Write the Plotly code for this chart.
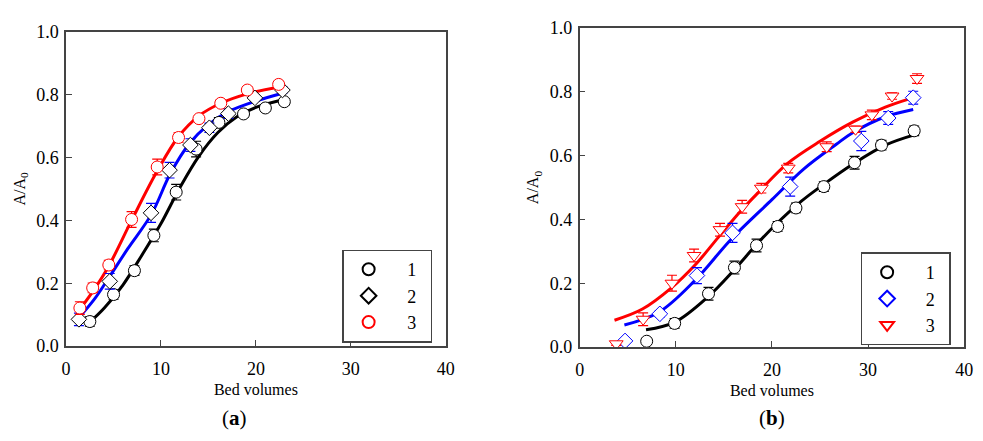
import plotly.graph_objects as go

# ---------------- Panel (a) data ----------------
a1_x = [2.5, 5.0, 7.2, 9.25, 11.6, 13.7, 16.1, 18.7, 21.0, 23.0]
a1_y = [0.078, 0.164, 0.24, 0.352, 0.49, 0.627, 0.712, 0.739, 0.758, 0.778]
a1_e = [0.015, 0.015, 0.015, 0.02, 0.025, 0.025, 0.015, 0.01, 0.01, 0.01]

a2_x = [1.35, 4.6, 8.95, 10.9, 13.1, 15.1, 17.1, 19.9, 22.8]
a2_y = [0.085, 0.206, 0.424, 0.56, 0.64, 0.695, 0.74, 0.79, 0.815]
a2_e = [0.02, 0.025, 0.03, 0.025, 0.02, 0.015, 0.015, 0.01, 0.01]

a3_x = [1.45, 2.8, 4.5, 6.9, 9.6, 11.85, 14.0, 16.3, 19.1, 22.4]
a3_y = [0.121, 0.185, 0.258, 0.403, 0.57, 0.664, 0.724, 0.773, 0.815, 0.833]
a3_e = [0.02, 0.015, 0.015, 0.025, 0.025, 0.015, 0.01, 0.01, 0.01, 0.01]

# fitted curves
a1_fx = [2.4, 4, 6, 8, 10, 12, 14, 16, 18, 20, 23]
a1_fy = [0.073, 0.12, 0.195, 0.29, 0.39, 0.505, 0.605, 0.68, 0.73, 0.76, 0.785]
a2_fx = [1.4, 3, 4.6, 6.5, 9, 11, 13, 15, 17, 20, 22.8]
a2_fy = [0.092, 0.15, 0.222, 0.31, 0.42, 0.55, 0.645, 0.705, 0.745, 0.78, 0.805]
a3_fx = [1.4, 2.8, 4.5, 6.9, 9.6, 11.85, 14.0, 16.3, 19.1, 22.4]
a3_fy = [0.115, 0.173, 0.255, 0.4, 0.557, 0.667, 0.733, 0.773, 0.803, 0.824]

# ---------------- Panel (b) data ----------------
b1_x = [6.97, 9.88, 13.4, 16.1, 18.4, 20.6, 22.5, 25.4, 28.6, 31.4, 34.8]
b1_y = [0.018, 0.074, 0.167, 0.249, 0.318, 0.378, 0.436, 0.503, 0.578, 0.633, 0.678]
b1_e = [0.005, 0.015, 0.02, 0.02, 0.02, 0.015, 0.015, 0.015, 0.02, 0.015, 0.015]

b2_x = [4.72, 8.34, 12.2, 15.9, 21.9, 29.3, 32.1, 34.7]
b2_y = [0.019, 0.104, 0.224, 0.358, 0.503, 0.646, 0.718, 0.782]
b2_e = [0.005, 0.01, 0.025, 0.03, 0.03, 0.03, 0.02, 0.02]

b3_x = [3.8, 6.6, 9.6, 11.9, 14.6, 16.9, 18.9, 21.7, 25.7, 28.7, 30.4, 32.5, 35.1]
b3_y = [0.01, 0.087, 0.2, 0.287, 0.368, 0.44, 0.498, 0.561, 0.628, 0.683, 0.728, 0.787, 0.842]
b3_e = [0.005, 0.02, 0.025, 0.02, 0.02, 0.02, 0.015, 0.015, 0.015, 0.01, 0.015, 0.01, 0.015]

b1_fx = [6.9, 9.95, 13.4, 16.1, 18.3, 20.2, 23.1, 25.3, 28.4, 31.8, 34.9]
b1_fy = [0.054, 0.079, 0.159, 0.243, 0.318, 0.378, 0.458, 0.508, 0.573, 0.633, 0.666]
b2_fx = [4.65, 8.24, 12.0, 15.76, 20.0, 23.3, 26.7, 28.4, 31.8, 34.7]
b2_fy = [0.069, 0.109, 0.209, 0.338, 0.462, 0.558, 0.636, 0.672, 0.722, 0.745]
b3_fx = [3.62, 6.53, 9.6, 12.0, 14.4, 16.8, 18.6, 21.6, 25.0, 28.4, 31.8, 34.3]
b3_fy = [0.084, 0.119, 0.187, 0.257, 0.343, 0.428, 0.485, 0.575, 0.645, 0.705, 0.752, 0.778]

x_ticks = [0, 10, 20, 30, 40]
y_ticks = [0.0, 0.2, 0.4, 0.6, 0.8, 1.0]
legend_names = ["1", "2", "3"]

BLACK = "#000000"
BLUE = "#0000ff"
RED = "#ff0000"
FONT = "Liberation Serif, Times New Roman, serif"
NB = "\u00a0"

fig = go.Figure()


def curve(x, y, color, xa, ya):
    fig.add_trace(go.Scatter(x=x, y=y, mode="lines", line=dict(color=color, width=3, shape="spline", smoothing=1.0),
                             xaxis=xa, yaxis=ya, showlegend=False, hoverinfo="skip"))


def points(x, y, e, symbol, mcolor, ecolor, name, xa, ya, legend):
    fig.add_trace(go.Scatter(
        x=x, y=y, mode="markers", name=NB * 3 + name + NB * 2,
        marker=dict(symbol=symbol, size=12, color="white", line=dict(color=mcolor, width=1)),
        error_y=dict(type="data", array=e, visible=True, color=ecolor, thickness=1.2, width=5),
        xaxis=xa, yaxis=ya, legend=legend))


# panel a
curve(a1_fx, a1_fy, BLACK, "x", "y")
curve(a2_fx, a2_fy, BLUE, "x", "y")
curve(a3_fx, a3_fy, RED, "x", "y")
points(a1_x, a1_y, a1_e, "circle", BLACK, BLACK, legend_names[0], "x", "y", "legend")
points(a2_x, a2_y, a2_e, "diamond", BLACK, BLUE, legend_names[1], "x", "y", "legend")
points(a3_x, a3_y, a3_e, "circle", RED, RED, legend_names[2], "x", "y", "legend")

# panel b
curve(b1_fx, b1_fy, BLACK, "x2", "y2")
curve(b2_fx, b2_fy, BLUE, "x2", "y2")
curve(b3_fx, b3_fy, RED, "x2", "y2")
points(b1_x, b1_y, b1_e, "circle", BLACK, BLACK, legend_names[0], "x2", "y2", "legend2")
points(b2_x, b2_y, b2_e, "diamond", BLUE, BLUE, legend_names[1], "x2", "y2", "legend2")
points(b3_x, b3_y, b3_e, "triangle-down", RED, RED, legend_names[2], "x2", "y2", "legend2")

W, H = 983, 441
axis_common = dict(showgrid=False, zeroline=False, showline=True, linecolor="#444", linewidth=1.5,
                   mirror=True, ticks="inside", ticklen=6, tickwidth=1.2, tickcolor="#444",
                   tickfont=dict(family=FONT, size=18, color="black"))

xa = dict(axis_common, range=[0, 40], tickvals=x_ticks, ticktext=[str(v) for v in x_ticks],
          ticklabelstandoff=6,
          title=dict(text="Bed volumes", font=dict(family=FONT, size=16, color="black"), standoff=5))
ya = dict(axis_common, range=[0, 1.0], tickvals=y_ticks, ticktext=["%.1f" % v for v in y_ticks],
          ticklabelstandoff=2,
          title=dict(text="A/A<sub>0</sub>", font=dict(family=FONT, size=16, color="black"), standoff=7))

leg_common = dict(xanchor="left", yanchor="top", bgcolor="white",
                  bordercolor="#444", borderwidth=1.5, font=dict(family=FONT, size=18, color="black"),
                  tracegroupgap=0, itemsizing="constant", itemwidth=40)

fig.update_layout(
    width=W, height=H, margin=dict(l=0, r=0, t=0, b=0),
    paper_bgcolor="white", plot_bgcolor="white",
    xaxis=dict(xa, domain=[62 / W, 447 / W], anchor="y"),
    yaxis=dict(ya, domain=[(H - 352) / H, (H - 23) / H], anchor="x"),
    xaxis2=dict(xa, domain=[583 / W, 973 / W], anchor="y2"),
    yaxis2=dict(ya, domain=[(H - 353) / H, (H - 19) / H], anchor="x2"),
    legend=dict(leg_common, x=342 / W, y=(H - 251) / H),
    legend2=dict(leg_common, x=868 / W, y=(H - 254) / H),
    showlegend=True,
    annotations=[
        dict(text="(<b>a</b>)", x=233 / W, y=(H - 427) / H, xref="paper", yref="paper",
             xanchor="center", yanchor="middle",
             showarrow=False, font=dict(family=FONT, size=21, color="black")),
        dict(text="(<b>b</b>)", x=778 / W, y=(H - 427) / H, xref="paper", yref="paper",
             xanchor="center", yanchor="middle",
             showarrow=False, font=dict(family=FONT, size=21, color="black")),
    ],
)

fig.write_html("out.html")
